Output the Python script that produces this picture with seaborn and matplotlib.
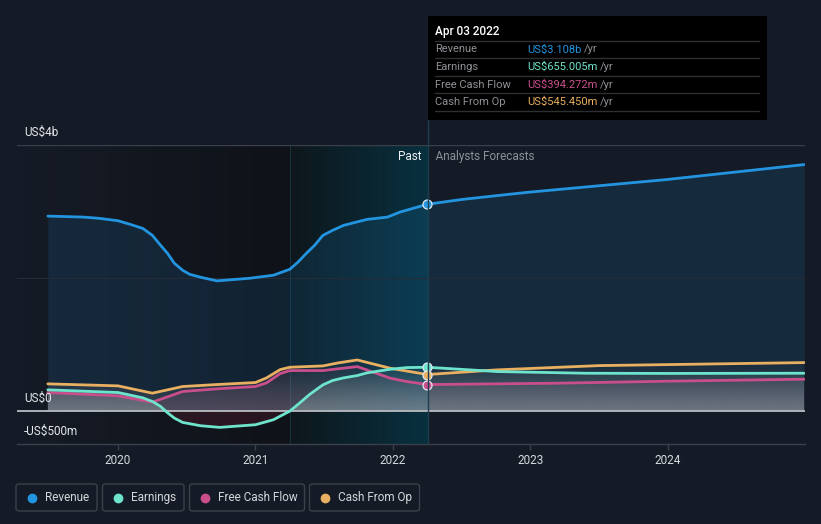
import numpy as np
import pandas as pd
import matplotlib
matplotlib.use("Agg")
import matplotlib.pyplot as plt
import matplotlib.colors as mcolors
import matplotlib.transforms as mtransforms
from matplotlib.patches import FancyBboxPatch, Rectangle
from matplotlib.lines import Line2D
import seaborn as sns

# ---------------- data (US$ millions, decimal years) ----------------
rev_years = [2019.49, 2019.75, 2019.87, 2020.0, 2020.09, 2020.18, 2020.25, 2020.31, 2020.36,
             2020.41, 2020.47, 2020.52, 2020.6, 2020.72, 2020.96, 2021.13, 2021.25, 2021.31,
             2021.37, 2021.43, 2021.49, 2021.56, 2021.64, 2021.81, 2021.96, 2022.05,
             2022.25, 2022.5, 2022.83, 2022.99, 2023.99, 2024.99]
rev_vals = [2930, 2915, 2895, 2860, 2805, 2745, 2640, 2490, 2370,
            2220, 2115, 2055, 2010, 1955, 1995, 2040, 2130, 2240,
            2370, 2490, 2640, 2715, 2790, 2880, 2915, 2990,
            3108, 3180, 3255, 3290, 3480, 3705]

earn_years = [2019.49, 2020.0, 2020.18, 2020.25, 2020.31, 2020.36, 2020.41, 2020.47, 2020.6,
              2020.74, 2021.0, 2021.13, 2021.25, 2021.32, 2021.39, 2021.49, 2021.56, 2021.64,
              2021.74, 2021.81, 2021.98, 2022.1, 2022.25, 2022.76, 2023.4, 2024.0, 2024.99]
earn_vals = [315, 275, 195, 140, 65, -30, -110, -175, -225,
             -250, -210, -135, -5, 115, 240, 390, 455, 495,
             530, 570, 625, 650, 655.005, 590, 565, 562, 565]

fcf_years = [2019.49, 2020.0, 2020.25, 2020.47, 2020.72, 2021.0, 2021.08, 2021.18, 2021.25,
             2021.49, 2021.74, 2021.98, 2022.1, 2022.25, 2023.2, 2024.0, 2024.99]
fcf_vals = [275, 225, 130, 290, 330, 365, 420, 560, 605,
            605, 665, 490, 440, 394.272, 415, 445, 475]

cfo_years = [2019.49, 2020.0, 2020.25, 2020.47, 2020.72, 2021.0, 2021.08, 2021.18, 2021.25,
             2021.49, 2021.6, 2021.74, 2021.98, 2022.25, 2022.75, 2023.5, 2024.99]
cfo_vals = [405, 375, 265, 365, 395, 425, 495, 620, 655,
            675, 720, 765, 640, 545.45, 615, 680, 725]

now_year = 2022.25
highlight_start = 2021.25
year_ticks = [2020, 2021, 2022, 2023, 2024]
year_labels = ["2020", "2021", "2022", "2023", "2024"]
y_ticks = [4000, 0, -500]
y_labels = ["US$4b", "US$0", "-US$500m"]

names = ["Revenue", "Earnings", "Free Cash Flow", "Cash From Op"]
tip_values = ["US$3.108b", "US$655.005m", "US$394.272m", "US$545.450m"]
tip_date = "Apr 03 2022"

C_REV = "#2394df"
C_EARN = "#6ee4cc"
C_FCF = "#c84f8c"
C_CFO = "#e8b060"
colors = [C_REV, C_EARN, C_FCF, C_CFO]

BG = "#151b26"

# ---------------- figure ----------------
sns.set_theme(style="dark")
plt.rcParams["font.family"] = ["Roboto", "DejaVu Sans"]

W, H = 821, 524
fig = plt.figure(figsize=(W / 100, H / 100), dpi=100, facecolor=BG)
ax = fig.add_axes([17 / W, 80 / H, 788 / W, 299 / H])
ax.set_facecolor(BG)

X0 = 2020 - (118 - 17) / 137.5
X1 = 2020 + (805 - 118) / 137.5
YLO, YHI = -500, 4000


def hgrad(x0, x1, c0, c1, z=0):
    t = np.linspace(0, 1, 256)
    a = np.array(mcolors.to_rgba(c0))
    b = np.array(mcolors.to_rgba(c1))
    img = (a[None, :] * (1 - t[:, None]) + b[None, :] * t[:, None])[None, :, :]
    ax.imshow(img, extent=[x0, x1, YLO, YHI], aspect="auto", zorder=z,
              interpolation="bilinear")


def vgrad_clip(poly, color, a_bottom, a_top, y0, y1, z=1.2):
    t = np.linspace(0, 1, 256)
    rgb = np.array(mcolors.to_rgb(color))
    img = np.zeros((256, 1, 4))
    img[:, 0, :3] = rgb
    img[:, 0, 3] = a_top * (1 - t) + a_bottom * t  # row 0 = top
    im = ax.imshow(img, extent=[X0, X1, y0, y1], aspect="auto", zorder=z,
                   interpolation="bilinear")
    im.set_clip_path(poly.get_paths()[0], transform=ax.transData)
    poly.remove()


# background regions
hgrad(X0, highlight_start, "#151b26", "#0f1218", z=0)
hgrad(highlight_start, now_year, "#0e171c", "#08303f", z=0)

# revenue area
ax.fill_between(rev_years, 0, rev_vals, color=C_REV, alpha=0.13, lw=0, zorder=1)

# lower series gradient areas
p = ax.fill_between(cfo_years, 0, cfo_vals, lw=0)
vgrad_clip(p, "#a0a0a6", 0.24, 0.0, 0, 800)
p = ax.fill_between(fcf_years, 0, fcf_vals, lw=0)
vgrad_clip(p, "#c07090", 0.2, 0.03, 0, 700)
p = ax.fill_between(earn_years, 0, earn_vals, lw=0)
vgrad_clip(p, "#c0e8de", 0.26, 0.03, 0, 700)
ev = np.array(earn_vals)
ax.fill_between(earn_years, 0, ev, where=ev < 0, interpolate=True,
                color="#8a2038", alpha=0.22, lw=0, zorder=1.3)

# grid lines
ax.axhline(4000, color="#3a404b", lw=1.0, zorder=2)
ax.axhline(2000, color="#262c37", lw=0.8, zorder=2)
ax.axhline(0, color="#b9bcc2", lw=1.3, zorder=2.5)
ax.axvline(highlight_start, color="#16303c", lw=0.8, zorder=0.5)

# lines
for yrs, vals, c in [(cfo_years, cfo_vals, C_CFO), (fcf_years, fcf_vals, C_FCF),
                     (earn_years, earn_vals, C_EARN), (rev_years, rev_vals, C_REV)]:
    sns.lineplot(x=yrs, y=vals, ax=ax, color=c, linewidth=2.0, errorbar=None,
                 zorder=3)
for l in ax.get_lines():
    l.set_solid_joinstyle("round")
    l.set_solid_capstyle("round")

# markers at now
now_vals = [rev_vals[rev_years.index(now_year)], earn_vals[earn_years.index(now_year)],
            fcf_vals[fcf_years.index(now_year)], cfo_vals[cfo_years.index(now_year)]]
for v, c in zip(now_vals, colors):
    ax.scatter([now_year], [v], s=42, color=c, edgecolor="#dfe6ee", linewidth=0.9,
               zorder=5)

ax.set_xlim(X0, X1)
ax.set_ylim(YLO, YHI)

# spines / ticks
for s in ["top", "right", "left"]:
    ax.spines[s].set_visible(False)
ax.spines["bottom"].set_color("#3a404b")
ax.spines["bottom"].set_linewidth(1.0)
ax.set_yticks([])
ax.set_xticks(year_ticks)
ax.set_xticklabels(year_labels)
ax.tick_params(axis="x", colors="#3a404b", length=4, width=1, pad=3,
               labelcolor="#d6d9de", labelsize=8.5, bottom=True)
ax.grid(False)

# y labels above their lines
trans = mtransforms.blended_transform_factory(fig.transFigure, ax.transData)
trans = mtransforms.offset_copy(trans, fig=fig, x=0, y=12.5, units="dots")
for v, lab in zip(y_ticks, y_labels):
    ax.text(24 / W, v, lab, transform=trans, color="#e4e6ea", fontsize=8.5,
            va="center", ha="left", zorder=6, clip_on=False)

# Past / Analysts Forecasts
ax.text(now_year, 3830, "Past  ", color="#f0f2f5", fontsize=8.5, ha="right",
        va="center", zorder=6)
ax.text(now_year, 3830, "   Analysts Forecasts", color="#8b9099", fontsize=8.5,
        ha="left", va="center", zorder=6)

# vertical "now" line extending to tooltip
fig.add_artist(Line2D([428 / W, 428 / W], [80 / H, 1 - 120 / H], color="#1c3e4e",
                      lw=1.0, zorder=4))

# tooltip
fig.add_artist(Rectangle((428 / W, 1 - 120 / H), (767 - 428) / W, (120 - 16) / H,
                         transform=fig.transFigure, facecolor="#000000",
                         edgecolor="none", zorder=10))
fig.text(435 / W, 1 - 31 / H, tip_date, color="#ffffff", fontsize=8.5,
         fontweight="medium", va="center", ha="left", zorder=11)
for yy in [41, 58, 76, 93, 111]:
    fig.add_artist(Line2D([435 / W, 759 / W], [1 - yy / H, 1 - yy / H],
                          color="#2e2f33", lw=1.0, zorder=11))
row_y = [49.5, 67, 84.5, 102]
val_texts = []
for name, val, c, yy in zip(names, tip_values, colors, row_y):
    fig.text(435 / W, 1 - yy / H, name, color="#8e9196", fontsize=8, va="center",
             ha="left", zorder=11)
    t = fig.text(527 / W, 1 - yy / H, val, color=c, fontsize=8, va="center",
                 ha="left", zorder=11)
    val_texts.append((t, yy))

fig.canvas.draw()
r = fig.canvas.get_renderer()
for t, yy in val_texts:
    bb = t.get_window_extent(renderer=r)
    fig.text((bb.x1 + 3) / W, 1 - yy / H, "/yr", color="#8e9196", fontsize=8,
             va="center", ha="left", zorder=11)

# legend
boxes = [(16, 97), (102.5, 184), (189.5, 304.5), (309.5, 419.5)]
for (x0, x1), name, c in zip(boxes, names, colors):
    fig.add_artist(FancyBboxPatch((x0 / W, 1 - 511 / H), (x1 - x0) / W, 27 / H,
                                  boxstyle="round,pad=0,rounding_size=0.004",
                                  transform=fig.transFigure, facecolor=BG,
                                  edgecolor="#3b404b", lw=1.0, zorder=10))
    fig.add_artist(Line2D([(x0 + 15.5) / W], [1 - 497.5 / H], marker="o",
                          markersize=6, color=c, lw=0, zorder=11))
    fig.text((x0 + 28.5) / W, 1 - 497.5 / H, name, color="#d4d6da", fontsize=8.5,
             va="center", ha="left", zorder=11)

fig.savefig("out.png", dpi=100, facecolor=BG)
